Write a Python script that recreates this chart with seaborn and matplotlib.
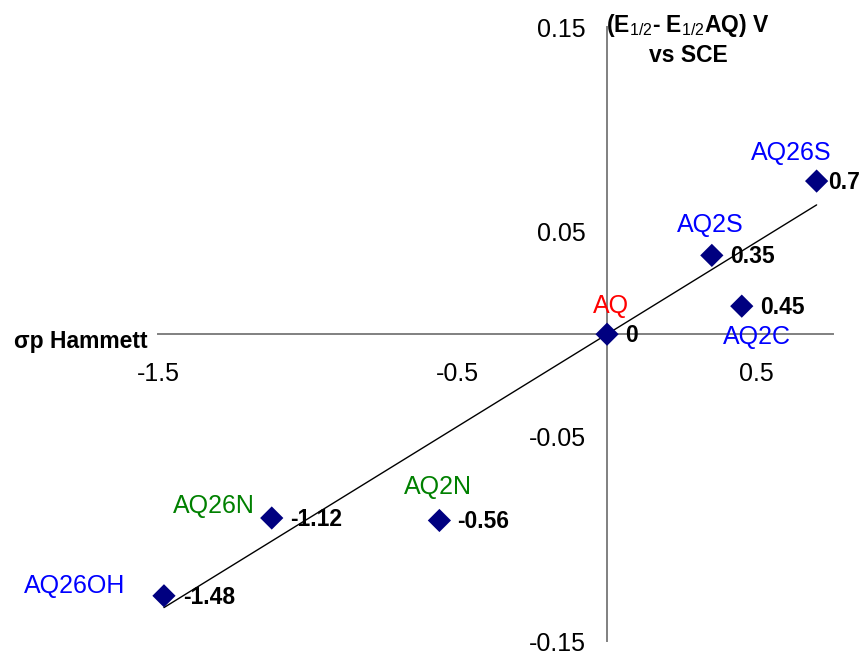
import numpy as np
import pandas as pd
import matplotlib
matplotlib.use("Agg")
import matplotlib.pyplot as plt
import seaborn as sns

# data
compounds = ["AQ26S", "AQ2S", "AQ2C", "AQ", "AQ2N", "AQ26N", "AQ26OH"]
sigma_p = [0.70, 0.35, 0.45, 0.0, -0.56, -1.12, -1.48]
delta_e = [0.0748, 0.0385, 0.0137, 0.0, -0.0910, -0.0898, -0.1278]
value_labels = ["0.7", "0.35", "0.45", "0", "-0.56", "-1.12", "-1.48"]
name_colors = ["#0000FF", "#0000FF", "#0000FF", "#FF0000", "#008000", "#008000", "#0000FF"]
x_ticks = [-1.5, -0.5, 0.5]
y_ticks = [0.15, 0.05, -0.05, -0.15]

# label offsets in points relative to the marker
name_offsets = [(-18, 20), (-1, 22), (11, -22), (3, 20), (-1, 24), (-42, 9), (-64, 7)]
value_dx = [8, 13, 13, 13, 13, 13, 14]

df = pd.DataFrame({"compound": compounds, "sigma": sigma_p, "dE": delta_e})

sns.set_style("white")
plt.rcParams["font.family"] = ["Liberation Sans", "DejaVu Sans"]
plt.rcParams["mathtext.fontset"] = "custom"
plt.rcParams["mathtext.rm"] = "Liberation Sans"
plt.rcParams["mathtext.bf"] = "Liberation Sans:bold"
plt.rcParams["axes.unicode_minus"] = False
plt.rcParams["text.color"] = "black"

fig = plt.figure(figsize=(8.6, 6.54), dpi=100)
ax = fig.add_axes([0.1837, 0.0195, 0.785, 0.9390])

# trendline through the origin
xs = np.array(sigma_p)
ys = np.array(delta_e)
slope = (xs * ys).sum() / (xs * xs).sum()
trend_x = np.array([xs.min(), xs.max()])
sns.lineplot(x=trend_x, y=slope * trend_x, ax=ax, color="black", linewidth=1.0, zorder=2)

sns.scatterplot(data=df, x="sigma", y="dE", ax=ax, marker="D", s=140,
                color="#000080", edgecolor="none", zorder=3, clip_on=False)

for name, x, y, col, off, val, dx in zip(compounds, sigma_p, delta_e, name_colors,
                                         name_offsets, value_labels, value_dx):
    ax.annotate(name, (x, y), xytext=off, textcoords="offset points",
                ha="center", va="center", fontsize=18, color=col)
    ax.annotate(val, (x, y), xytext=(dx, -1), textcoords="offset points",
                ha="left", va="center", fontsize=16.5, fontweight="bold", color="black")

ax.set_xlim(-1.5, 0.755)
ax.set_ylim(-0.15, 0.15)

for side in ["top", "right"]:
    ax.spines[side].set_visible(False)
ax.spines["left"].set_position(("data", 0))
ax.spines["bottom"].set_position(("data", 0))
for side in ["left", "bottom"]:
    ax.spines[side].set_color("#808080")
    ax.spines[side].set_linewidth(1.4)

ax.set_xticks(x_ticks)
ax.set_xticklabels([f"{t:g}" for t in x_ticks])
ax.set_yticks(y_ticks)
ax.set_yticklabels([f"{t:.2f}" for t in y_ticks])
ax.tick_params(axis="x", direction="out", length=6, width=1.2, color="black",
               labelsize=18, pad=14, labelcolor="black")
ax.tick_params(axis="y", direction="out", length=4.5, width=1.2, color="#808080",
               labelsize=18, pad=11, labelcolor="black")
ax.set_xlabel("")
ax.set_ylabel("")

ax.text(-1.536, -0.0068, "σp Hammett", ha="right", va="baseline",
        fontsize=16.5, fontweight="bold")
ax.text(0.27, 0.1478, r"(E$_{1/2}$- E$_{1/2}$AQ) V", ha="center", va="baseline",
        fontsize=16.5, fontweight="bold")
ax.text(0.27, 0.1332, "vs SCE", ha="center", va="baseline",
        fontsize=16.5, fontweight="bold")

fig.savefig("out.png", dpi=100)
